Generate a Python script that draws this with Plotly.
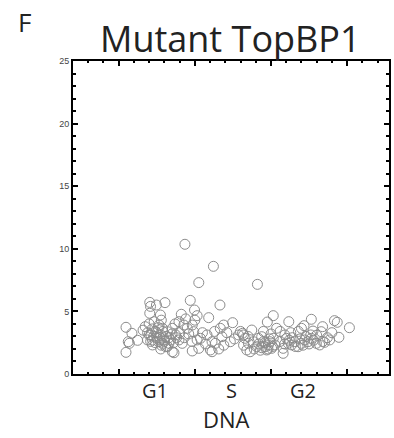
import plotly.graph_objects as go

# DNA content (arbitrary units) and signal for each cell
dna = [
    7.35, 9.22, 8.26, 12.11, 7.70, 9.65, 5.04, 6.04, 5.48, 5.09,
    7.98, 5.04, 5.74, 7.11, 8.15, 8.91, 13.15, 15.65, 14.17, 12.76,
    10.48, 17.17, 17.35, 18.15, 17.46, 16.39, 16.30, 15.76, 15.17, 15.00,
    15.61, 3.48, 3.87, 4.24, 3.63, 3.70, 3.48, 4.74, 5.33, 5.65,
    5.87, 5.43, 5.11, 5.22, 5.54, 5.76, 5.98, 6.30, 6.09, 5.76,
    6.52, 6.63, 6.20, 6.52, 6.74, 6.96, 7.17, 6.96, 7.28, 7.50,
    7.83, 7.93, 8.15, 8.37, 8.26, 7.83, 8.80, 9.13, 9.02, 9.13,
    9.57, 9.35, 9.67, 9.78, 9.89, 10.33, 10.87, 11.13, 11.20, 11.30,
    11.52, 11.41, 11.63, 11.74, 11.85, 12.07, 12.39, 12.50, 12.61, 12.72,
    12.83, 12.93, 13.04, 13.26, 13.37, 13.15, 13.80, 13.91, 14.02, 14.13,
    14.35, 14.57, 14.78, 15.00, 15.22, 15.43, 15.65, 15.98, 16.20, 16.52,
    16.85, 13.80, 12.17, 4.89, 5.00, 5.61, 5.87, 6.41, 5.22,
    5.30, 5.50, 5.70, 5.90, 6.10, 5.40, 5.80, 6.00, 6.30, 6.50,
    5.20, 5.60, 6.20, 6.60, 4.90, 5.10, 6.80, 7.00, 7.30, 7.60,
    7.80, 8.50, 8.70, 9.30, 8.00, 7.40, 6.70, 5.80, 5.00, 4.60,
    11.50, 11.90, 12.20, 12.40, 12.60, 12.80, 12.90, 13.10, 12.30, 11.20,
    11.00, 13.60, 13.90, 14.20, 14.40, 14.60, 14.90, 15.10, 15.30, 15.50,
    15.80, 16.00, 16.40, 16.70, 14.80, 14.30, 13.60, 13.00, 12.50, 10.60,
    10.10, 9.90, 17.00,
]
signal = [
    10.36, 8.60, 7.30, 7.16, 5.88, 5.51, 5.72, 5.70, 5.51, 5.40,
    5.11, 4.85, 4.71, 4.77, 4.66, 4.50, 4.66, 4.37, 4.18, 4.15,
    4.10, 4.26, 4.13, 3.70, 2.93, 3.78, 3.38, 3.43, 3.86, 3.65,
    3.12, 3.73, 3.25, 2.69, 2.58, 2.45, 1.73, 3.78, 4.18, 3.91,
    3.65, 3.38, 3.12, 2.72, 2.85, 3.12, 2.72, 2.45, 2.18, 2.00,
    1.78, 1.70, 3.38, 3.65, 3.12, 2.72, 2.45, 4.18, 3.91, 3.65,
    3.91, 3.38, 2.72, 2.85, 2.05, 1.84, 3.12, 2.58, 1.92, 1.78,
    2.00, 2.45, 3.65, 2.98, 3.91, 2.58, 3.12, 3.25, 3.12, 2.85,
    2.45, 1.92, 1.78, 3.51, 2.58, 2.18, 2.98, 2.58, 2.18, 1.92,
    2.32, 2.58, 2.05, 2.32, 3.65, 2.85, 1.65, 3.12, 2.85, 2.45,
    2.32, 2.58, 2.18, 2.45, 2.72, 2.58, 2.85, 2.45, 2.32, 2.53,
    2.72, 2.05, 2.85, 2.72, 3.12, 2.58, 2.45, 2.72, 2.32,
    3.00, 3.30, 2.90, 3.40, 3.00, 2.50, 2.30, 2.60, 2.90, 3.20,
    3.60, 3.70, 2.20, 2.50, 3.30, 2.60, 2.90, 3.30, 2.90, 3.20,
    2.60, 3.30, 2.40, 3.40, 4.30, 4.40, 4.00, 4.30, 4.00, 3.50,
    3.00, 2.00, 2.40, 2.10, 2.50, 2.00, 2.80, 2.20, 1.90, 2.30,
    3.40, 2.60, 2.40, 2.70, 2.90, 2.20, 2.80, 2.30, 3.00, 2.40,
    2.70, 3.10, 2.60, 2.90, 3.40, 3.30, 3.40, 3.20, 3.40, 2.80,
    3.30, 2.30, 3.30,
]

# Cell-cycle phase labels placed along the DNA axis
phase_labels = ["G1", "S", "G2"]
phase_pos = [5.41, 10.4, 15.13]

y_ticks = [0, 5, 10, 15, 20, 25]
x_major = [3, 8, 13, 18]

fig = go.Figure()
fig.add_trace(go.Scatter(
    x=dna, y=signal, mode="markers",
    marker=dict(symbol="circle-open", size=10,
                color="#8c8c8c", line=dict(width=1, color="#8c8c8c")),
    showlegend=False, hoverinfo="skip",
))

axis_common = dict(
    showline=True, linecolor="black", linewidth=2, mirror="ticks",
    ticks="inside", tickcolor="black", tickwidth=1.5, ticklen=5,
    showgrid=False, zeroline=False,
)

fig.update_xaxes(
    range=[0, 20.75], tickmode="array", tickvals=x_major,
    showticklabels=False,
    minor=dict(ticks="inside", dtick=1, tick0=0, ticklen=2,
               tickcolor="black", tickwidth=1.5, showgrid=False),
    **axis_common,
)
fig.update_yaxes(
    range=[0, 25], tickmode="array", tickvals=y_ticks,
    ticktext=[str(v) for v in y_ticks],
    tickfont=dict(family="Arial, Liberation Sans", size=9, color="#444"),
    minor=dict(ticks="inside", dtick=1, tick0=0, ticklen=3,
               tickcolor="black", tickwidth=1.5, showgrid=False),
    **axis_common,
)

annotations = []
for lab, pos in zip(phase_labels, phase_pos):
    annotations.append(dict(
        x=pos, y=-0.003, xref="x", yref="paper", text=lab, showarrow=False,
        xanchor="center", yanchor="top",
        font=dict(family="Open Sans", size=20, color="#222"),
    ))
annotations += [
    dict(x=0.487, y=-0.09, xref="paper", yref="paper", text="DNA",
         showarrow=False, xanchor="center", yanchor="top",
         font=dict(family="Open Sans", size=22, color="#222")),
    dict(x=0.497, y=0.988, xref="paper", yref="paper", text="Mutant TopBP1",
         showarrow=False, xanchor="center", yanchor="bottom",
         font=dict(family="Open Sans", size=36, color="#222")),
]

fig.update_layout(
    width=394, height=438,
    margin=dict(l=73, r=3, t=61, b=64),
    paper_bgcolor="white", plot_bgcolor="white",
    annotations=annotations,
)

# Panel letters
fig.add_annotation(x=-0.18, y=1.19, xref="paper", yref="paper", text="F",
                   showarrow=False, xanchor="left", yanchor="top",
                   font=dict(family="Open Sans", size=26, color="#222"))
fig.add_annotation(x=-0.165, y=-0.19, xref="paper", yref="paper", text="I",
                   showarrow=False, xanchor="left", yanchor="top",
                   font=dict(family="Open Sans", size=26, color="#222"))

fig.write_html("out.html")
